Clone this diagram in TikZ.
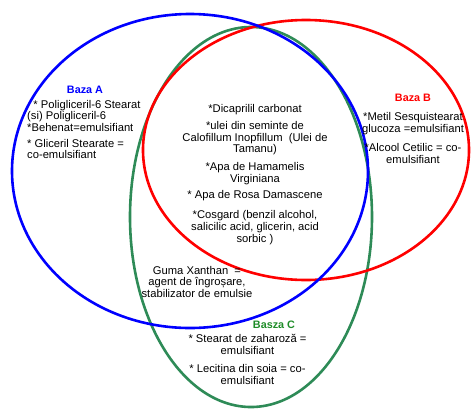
\documentclass[tikz,border=0pt]{standalone}
\usepackage{fontspec}
\setmainfont{Liberation Sans}
\usetikzlibrary{shapes.geometric}
\definecolor{vblue}{RGB}{0,0,255}
\definecolor{vred}{RGB}{255,0,0}
\definecolor{vgreen}{RGB}{46,139,87}
\definecolor{tgreen}{RGB}{30,140,40}
\begin{document}
\begin{tikzpicture}[x=1pt,y=-1pt,
  setc/.style={ellipse, draw, line width=2.6pt, inner sep=0pt},
  txt/.style={font=\fontsize{11.2}{11.8}\selectfont, inner sep=0pt, text=black},
  ttl/.style={font=\fontsize{10.8}{11.8}\selectfont\bfseries, inner sep=0pt}]
\useasboundingbox (0,0) rectangle (471,408);
\node[setc, draw=vgreen, minimum width=242pt, minimum height=380pt] (C) at (251,217) {};
\node[setc, draw=vred, minimum width=326pt, minimum height=260pt] (B) at (306,150) {};
\node[setc, draw=vblue, minimum width=356pt, minimum height=314pt] (A) at (190,171) {};

\node[ttl, text=vblue] (ta) at (85,90) {Baza A};
\node[txt, align=left, anchor=west] (la) at (27,129.5) {\ \ * Poligliceril-6 Stearat\\(si) Poligliceril-6\\*Behenat=emulsifiant\\[3.5pt]* Gliceril Stearate =\\co-emulsifiant};

\node[ttl, text=vred] (tb) at (413,98.3) {Baza B};
\node[txt, align=center] (lb) at (413,138.2) {*Metil Sesquistearat\\glucoza =emulsifiant\\[7.5pt]*Alcool Cetilic = co-\\emulsifiant};

\node[txt, align=center] (lm) at (255,174.5) {*Dicaprilil carbonat\\[5pt]*ulei din seminte de\\Calofillum Inopfillum\ \ (Ulei de\\Tamanu)\\[5.5pt]*Apa de Hamamelis\\Virginiana\\[5pt]* Apa de Rosa Damascene\\[8pt]*Cosgard (benzil alcohol,\\salicilic acid, glicerin, acid\\sorbic )};

\node[txt, align=center] (lg) at (197,281.8) {Guma Xanthan\ \ =\\agent de îngroșare,\\stabilizator de emulsie};

\node[ttl, text=tgreen] (tc) at (274,325) {Basza C};
\node[txt, align=center] (lc) at (247.5,359.2) {* Stearat de zaharoză =\\emulsifiant\\[6.5pt]* Lecitina din soia = co-\\emulsifiant};
\end{tikzpicture}
\end{document}
